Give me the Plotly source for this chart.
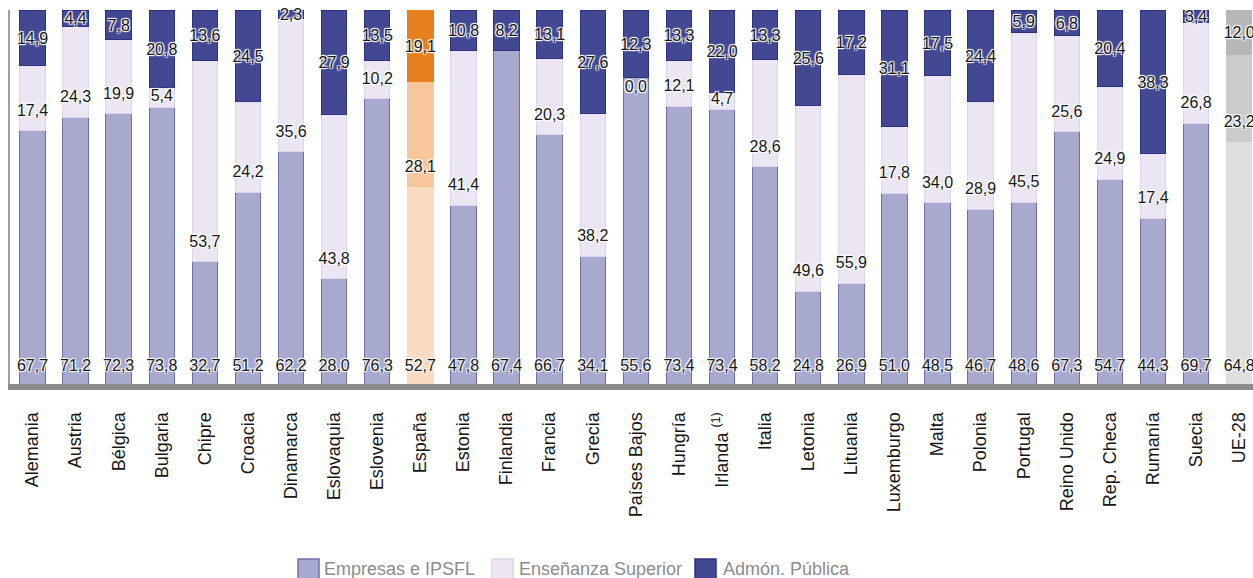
import plotly.graph_objects as go

# ---------------- data ----------------
categories = ["Alemania", "Austria", "Bélgica", "Bulgaria", "Chipre", "Croacia", "Dinamarca",
              "Eslovaquia", "Eslovenia", "España", "Estonia", "Finlandia", "Francia", "Grecia",
              "Países Bajos", "Hungría", "Irlanda <sup>(1)</sup>", "Italia", "Letonia", "Lituania",
              "Luxemburgo", "Malta", "Polonia", "Portugal", "Reino Unido", "Rep. Checa", "Rumanía",
              "Suecia", "UE-28"]
empresas = [67.7, 71.2, 72.3, 73.8, 32.7, 51.2, 62.2, 28.0, 76.3, 52.7, 47.8, 67.4, 66.7, 34.1,
            55.6, 73.4, 73.4, 58.2, 24.8, 26.9, 51.0, 48.5, 46.7, 48.6, 67.3, 54.7, 44.3, 69.7, 64.8]
ensenanza = [17.4, 24.3, 19.9, 5.4, 53.7, 24.2, 35.6, 43.8, 10.2, 28.1, 41.4, None, 20.3, 38.2,
             0.0, 12.1, 4.7, 28.6, 49.6, 55.9, 17.8, 34.0, 28.9, 45.5, 25.6, 24.9, 17.4, 26.8, 23.2]
admon = [14.9, 4.4, 7.8, 20.8, 13.6, 24.5, 2.3, 27.9, 13.5, 19.1, 10.8, 8.2, 13.1, 27.6,
         12.3, 13.3, 22.0, 13.3, 25.6, 17.2, 31.1, 17.5, 24.4, 5.9, 6.8, 20.4, 38.3, 3.4, 12.0]
series_names = ["Empresas e IPSFL", "Enseñanza Superior", "Admón. Pública"]

# ---------------- styles ----------------
FONT = "Liberation Sans, Arial, Helvetica, sans-serif"
W, H = 1253, 578
ML, MR, MT, MB = 10, 0, 10, 194
PW, PH = W - ML - MR, H - MT - MB
UNIT_PER_PX = 100.0 / PH

base_col = {"emp": "#a7a9cf", "ens": "#ece6f4", "adm": "#434893"}
line_col = {"emp": "#6c70a6", "ens": "#dcd5ea", "adm": "#2c3280"}
spain_col = {"emp": "#fbdcc2", "ens": "#f7c69b", "adm": "#e6801f"}
eu_col = {"emp": "#dedede", "ens": "#cbcbcb", "adm": "#b6b6b6"}


def colors(key):
    fill, line = [], []
    for c in categories:
        if c == "España":
            fill.append(spain_col[key]); line.append(spain_col[key])
        elif c == "UE-28":
            fill.append(eu_col[key]); line.append(eu_col[key])
        else:
            fill.append(base_col[key]); line.append(line_col[key])
    return fill, line


def fmt(v):
    return f"{v:.1f}".replace(".", ",")


fig = go.Figure()
for vals, key, name in [(empresas, "emp", series_names[0]),
                        (ensenanza, "ens", series_names[1]),
                        (admon, "adm", series_names[2])]:
    fill, line = colors(key)
    fig.add_trace(go.Bar(x=categories, y=vals, name=name, showlegend=False,
                         marker=dict(color=fill, line=dict(color=line, width=1))))

# label positions (normalised stacks, as the chart is 100 % stacked)
emp_pts, ens_pts, adm_pts = [], [], []
for c, e, s, a in zip(categories, empresas, ensenanza, admon):
    tot = sum(v for v in (e, s, a) if v is not None)
    en = e / tot * 100
    sn = (s or 0) / tot * 100
    an = a / tot * 100
    emp_pts.append((c, min(17 * UNIT_PER_PX, en / 2), e))
    if s is not None:
        if sn == 0:
            ens_pts.append((c, en - 10 * UNIT_PER_PX, s))
        else:
            ens_pts.append((c, en + min(19 * UNIT_PER_PX, sn / 2 + 0.3), s))
    adm_pts.append((c, en + sn + an / 2 - 2 * UNIT_PER_PX, a))

shadow = "1px 1px 1px #fff, -1px -1px 1px #fff, 1px -1px 1px #fff, -1px 1px 1px #fff"
for pts in (emp_pts, ens_pts, adm_pts):
    fig.add_trace(go.Scatter(x=[p[0] for p in pts], y=[p[1] for p in pts], mode="text",
                             text=[fmt(p[2]) for p in pts],
                             textposition="middle center", showlegend=False, hoverinfo="skip",
                             cliponaxis=False,
                             textfont=dict(family=FONT, size=16, color="#161616", shadow=shadow)))

# custom legend (below the chart)
def px_x(px):
    return (px - ML) / PW


def px_y(py):
    return (H - MB - py) / PH


legend_items = [(298, 322, series_names[0], "emp"),
                (492, 517, series_names[1], "ens"),
                (695, 721, series_names[2], "adm")]
shapes, annots = [], []
for sx, tx, label, key in legend_items:
    shapes.append(dict(type="rect", xref="paper", yref="paper",
                       x0=px_x(sx), x1=px_x(sx + 21), y0=px_y(580), y1=px_y(559),
                       fillcolor=base_col[key], line=dict(color=line_col[key], width=1.5)))
    annots.append(dict(xref="paper", yref="paper", x=px_x(tx), y=px_y(569), text=label,
                       showarrow=False, xanchor="left", yanchor="middle",
                       font=dict(family=FONT, size=18, color="#8c8c8c")))

fig.update_layout(
    width=W, height=H,
    barmode="stack", barnorm="percent", bargap=0.41,
    plot_bgcolor="white", paper_bgcolor="white",
    margin=dict(l=ML, r=MR, t=MT, b=MB, autoexpand=False),
    font=dict(family=FONT, color="#1a1a1a"),
    shapes=shapes, annotations=annots,
    xaxis=dict(type="category", range=[-0.522, 28.32], tickangle=-90,
               tickfont=dict(family=FONT, size=18, color="#161616"),
               showline=True, linewidth=6, linecolor="#8b8b8b", ticks="",
               ticklabelstandoff=15, showgrid=False, zeroline=False, fixedrange=True),
    yaxis=dict(range=[0, 100], showticklabels=False, showgrid=False, zeroline=False,
               showline=True, linewidth=1.5, linecolor="#a0a0a0", ticks="", fixedrange=True),
)

fig.write_html("out.html", config={"displayModeBar": False},
               post_script="document.body.style.margin='0px';document.body.style.overflow='hidden';")
